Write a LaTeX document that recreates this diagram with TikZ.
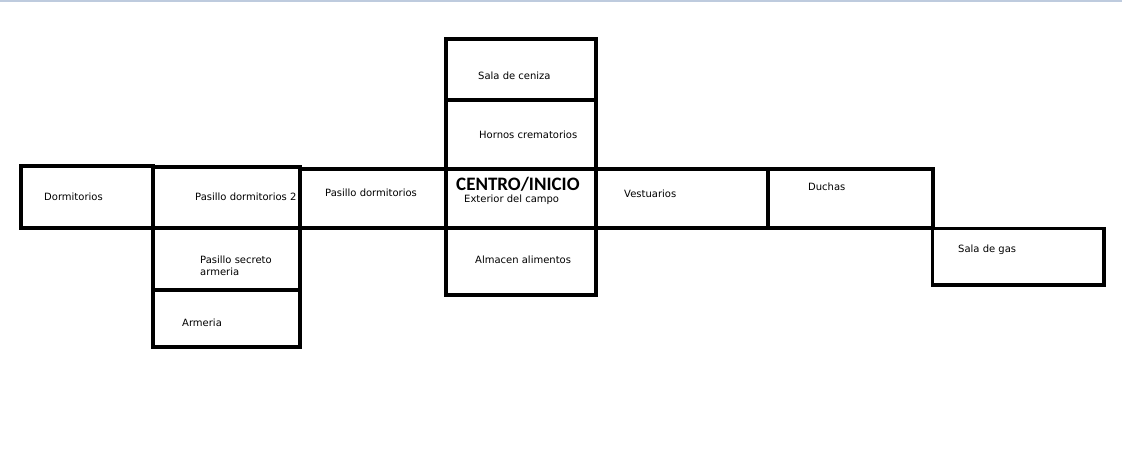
\documentclass[tikz,border=0pt]{standalone}
\usepackage{fontspec}
\usepackage{tikz}
\newfontfamily\salafont{DejaVu Sans}
\newfontfamily\titulofont{Carlito}
\definecolor{bordecolor}{RGB}{190,203,222}

\begin{document}
\begin{tikzpicture}[x=1pt, y=-1pt,
    room/.style={draw, line width=4pt, rectangle, inner sep=0pt},
    rotulo/.style={anchor=west, inner sep=0pt, align=left,
                   font=\salafont\fontsize{10}{12}\selectfont}]
  \useasboundingbox (0,0) rectangle (1122,448);
  \draw[bordecolor, line width=1.5pt] (0,0.75) -- (1122,0.75);

  % rooms
  \node[room, minimum width=131.5pt, minimum height=62pt] (dorm) at (86.75,197) {};
  \node[room, minimum width=147.5pt, minimum height=61.5pt] (pasillodos) at (226.25,197.25) {};
  \node[room, minimum width=147.5pt, minimum height=61.5pt] (secreto) at (226.25,258.75) {};
  \node[room, minimum width=147.5pt, minimum height=57.5pt] (armeria) at (226.25,318.25) {};
  \node[room, minimum width=146pt, minimum height=59pt] (pasillo) at (373,198.5) {};
  \node[room, minimum width=150pt, minimum height=61pt] (ceniza) at (521,69.5) {};
  \node[room, minimum width=150pt, minimum height=69pt] (hornos) at (521,134.5) {};
  \node[room, minimum width=150pt, minimum height=59pt] (centro) at (521,198.5) {};
  \node[room, minimum width=150pt, minimum height=67pt] (almacen) at (521,261.5) {};
  \node[room, minimum width=172pt, minimum height=59pt] (vestuarios) at (682,198.5) {};
  \node[room, minimum width=164.5pt, minimum height=59pt] (duchas) at (850.25,198.5) {};
  \node[room, line width=3.5pt, minimum width=171.5pt, minimum height=56.5pt] (gas) at (1018.25,256.75) {};

  % labels
  \node[rotulo] (tdorm) at (44,197) {Dormitorios};
  \node[rotulo] (tpasillodos) at (195,197) {Pasillo dormitorios 2};
  \node[rotulo] (tsecreto) at (200,266) {Pasillo secreto\\armeria};
  \node[rotulo] (tarmeria) at (182,323) {Armeria};
  \node[rotulo] (tpasillo) at (325,193) {Pasillo dormitorios};
  \node[rotulo] (tceniza) at (478,76) {Sala de ceniza};
  \node[rotulo] (thornos) at (479,135) {Hornos crematorios};
  \node[anchor=base west, inner sep=0pt, font=\titulofont\bfseries\fontsize{19}{22}\selectfont]
       (tcentro) at (456,190) {CENTRO/INICIO};
  \node[rotulo] (texterior) at (464,200) {Exterior del campo};
  \node[rotulo] (talmacen) at (475,260) {Almacen alimentos};
  \node[rotulo] (tvestuarios) at (624,194) {Vestuarios};
  \node[rotulo] (tduchas) at (808,187) {Duchas};
  \node[rotulo] (tgas) at (958,250) {Sala de gas};
\end{tikzpicture}
\end{document}
